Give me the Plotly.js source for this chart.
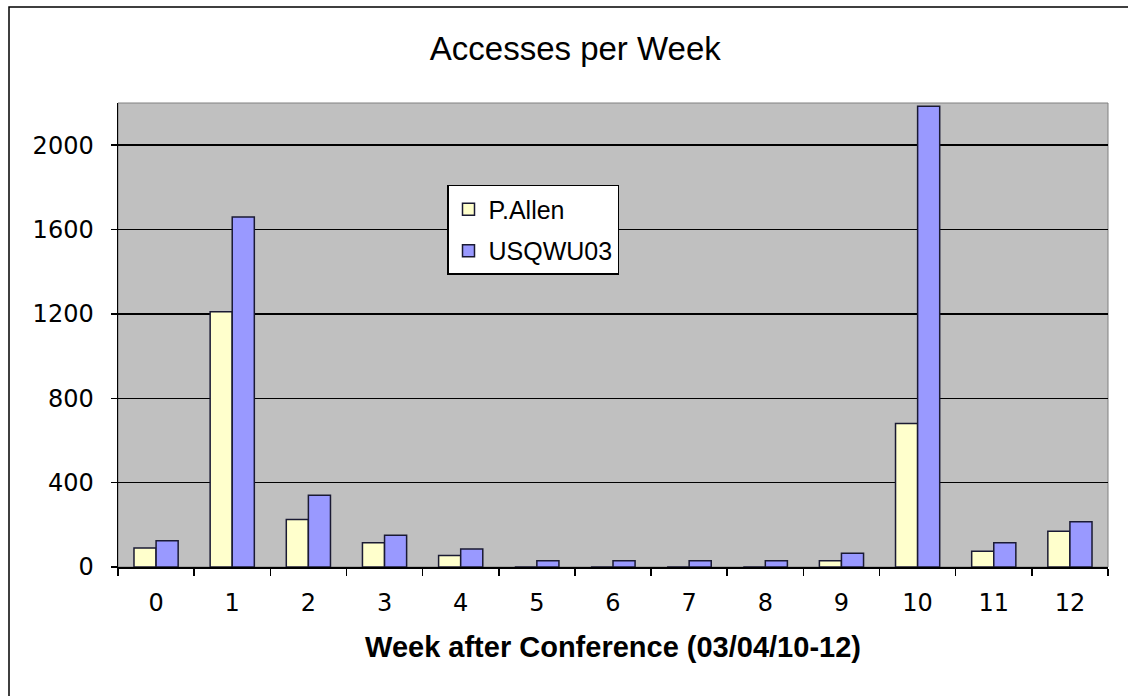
<!DOCTYPE html>
<html>
<head>
<meta charset="utf-8">
<script src="https://cdn.plot.ly/plotly-3.0.1.min.js"></script>
<style>html,body{margin:0;padding:0;background:#fff;}#chart{width:1128px;height:696px;}</style>
</head>
<body>
<div id="chart"></div>
<script>
const weeks = ["0","1","2","3","4","5","6","7","8","9","10","11","12"];
const pAllen = [90, 1210, 225, 115, 55, 0, 0, 0, 0, 30, 680, 75, 170];
const usqwu03 = [125, 1660, 340, 150, 85, 30, 30, 30, 30, 65, 2185, 115, 215];
const yTicks = [0, 400, 800, 1200, 1600, 2000];

const traces = [
  {type: "bar", name: "P.Allen", x: weeks, y: pAllen, legendgroup: "a",
   marker: {color: "#FFFFCC", line: {color: "#1a1a33", width: 1.5}}},
  {type: "bar", name: "USQWU03", x: weeks, y: usqwu03, legendgroup: "b",
   marker: {color: "#9999FF", line: {color: "#1a1a33", width: 1.5}}}
];

const tickFont = {family: "DejaVu Sans, sans-serif", size: 24, color: "#000"};

const layout = {
  width: 1128, height: 696,
  margin: {l: 118, r: 20, t: 103, b: 129},
  paper_bgcolor: "#ffffff",
  plot_bgcolor: "#C0C0C0",
  font: {family: "Liberation Sans, Arial, sans-serif", color: "#000"},
  title: {text: "Accesses per Week", x: 0.51, xanchor: "center", y: 0.931, yanchor: "middle",
          font: {size: 33, color: "#000"}},
  barmode: "group",
  bargap: 0.42,
  bargroupgap: 0,
  showlegend: true,
  legend: {x: (447 - 118) / 990, xanchor: "left", y: (567.3 - 185) / 464.3, yanchor: "top",
           bgcolor: "#ffffff", bordercolor: "#000", borderwidth: 1.5,
           font: {family: "Liberation Sans, Arial, sans-serif", size: 25, color: "#000"},
           traceorder: "grouped", tracegroupgap: 6, itemwidth: 30},
  xaxis: {type: "category", tickson: "boundaries", ticks: "outside", ticklen: 7,
          tickcolor: "#000", tickwidth: 1.5, showline: true, linecolor: "#000", linewidth: 1.5,
          showgrid: false, zeroline: false, ticklabelstandoff: 14,
          tickfont: tickFont,
          title: {text: "<b>Week after Conference (03/04/10-12)</b>",
                  font: {family: "Liberation Sans, Arial, sans-serif", size: 29, color: "#000"}, standoff: 20}},
  yaxis: {range: [0, 2200], tickvals: yTicks, ticktext: yTicks.map(String),
          ticks: "outside", ticklen: 6, tickcolor: "#000", tickwidth: 1.5,
          ticklabelstandoff: 12,
          showline: true, linecolor: "#000", linewidth: 1.5,
          showgrid: true, gridcolor: "#000", gridwidth: 1.5, zeroline: false,
          tickfont: tickFont},
  shapes: [
    {type: "rect", xref: "paper", yref: "paper", x0: 0, x1: 1, y0: 0, y1: 1,
     line: {color: "#808080", width: 1}, layer: "below"},
    {type: "rect", xref: "paper", yref: "paper",
     x0: (9 - 118) / 990, x1: 1.1, y0: -0.3, y1: (567.3 - 7) / 464.3,
     line: {color: "#000", width: 1.5}, fillcolor: "rgba(0,0,0,0)"}
  ]
};

Plotly.newPlot("chart", traces, layout, {displayModeBar: false, staticPlot: true});
</script>
</body>
</html>
